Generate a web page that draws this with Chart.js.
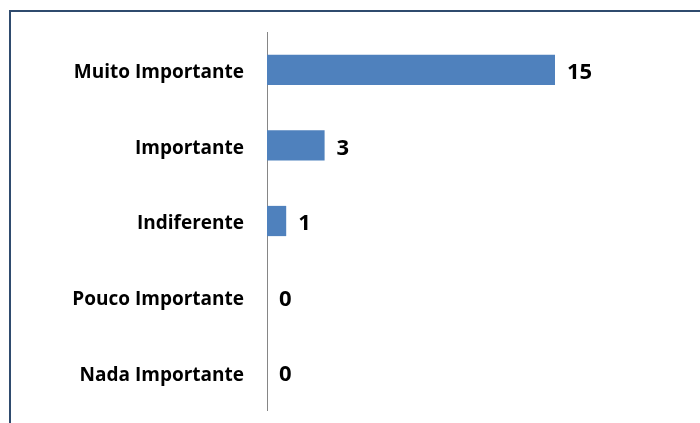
<!DOCTYPE html>
<html>
<head>
<meta charset="utf-8">
<script src="https://cdn.jsdelivr.net/npm/chart.js@4"></script>
<style>
  html, body { margin: 0; padding: 0; background: #fff; }
  #wrap { position: relative; width: 700px; height: 423px; overflow: hidden; }
  #moldura { position: absolute; left: 9px; top: 10px; width: 720px; height: 440px;
    border-left: 2px solid #2f4b6e; border-top: 2px solid #2f4b6e; }
  canvas { position: absolute; left: 0; top: 0; }
</style>
</head>
<body>
<div id="wrap">
  <div id="moldura"></div>
  <canvas id="grafico" width="700" height="423"></canvas>
</div>
<script>
const categorias = ['Muito Importante', 'Importante', 'Indiferente', 'Pouco Importante', 'Nada Importante'];
const respostas = [15, 3, 1, 0, 0];

const fonte = "'Open Sans', sans-serif";

// escreve o valor ao lado de cada barra
const rotulosValor = {
  id: 'rotulosValor',
  afterDatasetsDraw(chart) {
    const ctx = chart.ctx;
    const meta = chart.getDatasetMeta(0);
    ctx.save();
    ctx.font = 'bold 22px ' + fonte;
    ctx.fillStyle = '#000';
    ctx.textAlign = 'left';
    ctx.textBaseline = 'middle';
    meta.data.forEach((bar, i) => {
      ctx.fillText(String(respostas[i]), bar.x + 12, bar.y + 3);
    });
    ctx.restore();
  }
};

new Chart(document.getElementById('grafico'), {
  type: 'bar',
  data: {
    labels: categorias,
    datasets: [{
      data: respostas,
      backgroundColor: '#4f81bd',
      borderWidth: 0,
      categoryPercentage: 1,
      barPercentage: 0.4
    }]
  },
  options: {
    indexAxis: 'y',
    responsive: false,
    animation: false,
    layout: { padding: { top: 32, bottom: 13, right: 49, left: 0 } },
    plugins: { legend: { display: false }, tooltip: { enabled: false } },
    scales: {
      x: { display: false, min: 0, max: 20 },
      y: {
        afterFit(scale) {
          scale.width = 267;
          scale.paddingTop = 0;
          scale.paddingBottom = 0;
        },
        grid: { display: false, drawTicks: false },
        border: { display: true, color: '#868686', width: 1 },
        ticks: { color: '#000', padding: 23, labelOffset: 3, font: { family: fonte, size: 19, weight: 'bold' } }
      }
    }
  },
  plugins: [rotulosValor]
});
</script>
</body>
</html>
